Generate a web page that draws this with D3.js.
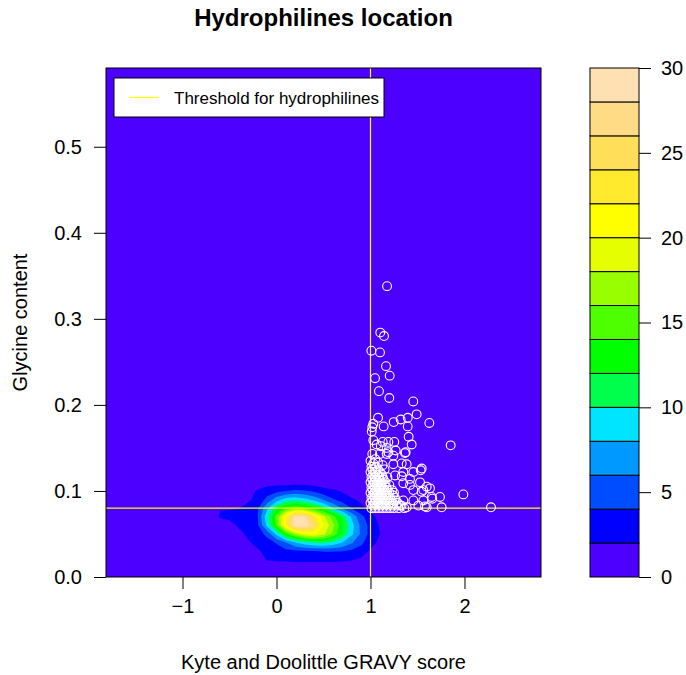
<!DOCTYPE html>
<html><head><meta charset="utf-8">
<script src="https://cdn.jsdelivr.net/npm/d3@7"></script>
<style>body{margin:0;background:#fff}svg{display:block}text{font-family:"Liberation Sans",Arial,sans-serif}</style>
</head><body>
<svg id="chart" width="686" height="675"></svg>
<script>
const title = "Hydrophilines location";
const xLabel = "Kyte and Doolittle GRAVY score";
const yLabel = "Glycine content";
const legendLabel = "Threshold for hydrophilines";
const xTicks = [-1, 0, 1, 2];
const yTicks = [0, 0.1, 0.2, 0.3, 0.4, 0.5];
const barTicks = [0, 5, 10, 15, 20, 25, 30];
const levelBreaks = [0,2,4,6,8,10,12,14,16,18,20,22,24,26,28,30];
const levelColors = ["#4C00FF","#0000FF","#004CFF","#0099FF","#00E5FF","#00FF4D","#00FF00","#4DFF00","#99FF00","#E6FF00","#FFFF00","#FFEA2D","#FFDE59","#FFDB86","#FFE0B3"];
const gravyThreshold = 1;
const glycineThreshold = 0.08;

// density estimate of all proteins (rows = glycine content, columns = GRAVY)
const gridX = [-0.8,-0.7,-0.6,-0.5,-0.4,-0.3,-0.2,-0.1,0,0.1,0.2,0.3,0.4,0.5,0.6,0.7,0.8,0.9,1.0,1.1,1.2,1.3];
const gridY = [0,0.01,0.02,0.03,0.04,0.05,0.06,0.07,0.08,0.09,0.1,0.11,0.12,0.13];
const density = [
[0,0,0,0,0,0,0,0,0,0,0,0,0,0,0,0,0,0,0,0,0,0],
[0,0,0,0,0,0,0,0.3,0.6,0.7,0.8,0.8,0.8,0.8,0.8,0.8,0.7,0.5,0.3,0.1,0,0],
[0,0,0,0,0,0,1.0,2.1,2.3,2.3,2.4,2.4,2.4,2.4,2.4,2.3,2.1,1.7,1.1,0.5,0.1,0],
[0,0,0,0,0,0.3,1.8,2.5,3.0,3.4,3.7,3.8,3.9,4.1,4.1,4.0,3.6,3.0,1.7,1.0,0.4,0],
[0,0,0,0,0.5,1.8,2.5,3.3,4.2,6.0,8.0,9.2,10.2,10.4,9.6,8.0,6.2,4.5,2.8,1.5,0.7,0.1],
[0,0,0,0.3,1.5,2.4,3.2,4.5,8.5,13.5,17.0,19.5,20.5,18.5,15.5,12.0,8.4,5.6,3.3,2.0,1.0,0.2],
[0,0,0,1.4,2.3,2.9,3.7,8.5,14.5,22.0,29.5,29.6,26.0,20.0,16.5,12.5,8.8,5.4,3.3,1.8,0.8,0.2],
[0,0,2.4,2.4,2.5,3.0,4.0,9.5,15.0,22.0,28.9,28.4,23.0,18.5,15.0,11.5,7.6,4.6,2.8,1.2,0.3,0],
[0,0,1.8,1.9,1.95,2.7,3.8,7.6,11.5,14.5,15.5,14.5,13.0,11.0,8.2,5.8,4.0,2.6,1.4,0.4,0,0],
[0,0,0,0.5,1.0,1.7,2.6,4.6,7.0,8.8,9.4,8.6,7.4,5.8,4.2,3.2,2.3,1.5,0.6,0,0,0],
[0,0,0,0,0.6,1.4,2.2,3.0,3.5,4.0,4.4,4.2,3.6,2.8,2.4,1.8,0.9,0.3,0,0,0,0],
[0,0,0,0,0,0.4,0.9,1.2,1.1,1.0,1.0,1.0,0.9,0.7,0.5,0.2,0,0,0,0,0,0],
[0,0,0,0,0,0,0.1,0.3,0.3,0.3,0.3,0.2,0.1,0,0,0,0,0,0,0,0,0],
[0,0,0,0,0,0,0,0,0,0,0,0,0,0,0,0,0,0,0,0,0,0]
];

// hydrophilines: [GRAVY score, glycine content]
const hydrophilines = [
[1.176,0.338],[1.104,0.284],[1.144,0.280],[1.009,0.263],[1.101,0.261],[1.165,0.245],[1.048,0.231],[1.204,0.234],[1.090,0.216],[1.200,0.208],[1.455,0.204],
[1.080,0.185],[1.247,0.180],[1.321,0.183],[1.396,0.185],[1.491,0.189],[1.626,0.179],[1.030,0.178],[1.019,0.174],[1.140,0.175],[1.396,0.175],[1.013,0.169],
[1.406,0.163],[1.438,0.154],[1.853,0.153],[1.253,0.157],[1.190,0.157],[1.130,0.157],[1.066,0.154],[1.030,0.159],[1.110,0.152],[1.172,0.150],[1.268,0.147],
[1.374,0.145],[1.190,0.145],[1.100,0.143],[1.019,0.143],[1.172,0.143],[1.243,0.141],[1.367,0.144],[1.030,0.132],[1.129,0.130],[1.243,0.131],[1.332,0.132],
[1.385,0.131],[1.349,0.122],[1.456,0.122],[1.534,0.124],[1.545,0.126],[1.261,0.118],[1.332,0.117],[1.420,0.114],[1.527,0.110],[1.598,0.105],[1.633,0.103],
[1.349,0.109],[1.420,0.107],[1.456,0.101],[1.544,0.099],[1.562,0.101],[1.651,0.093],[1.739,0.093],[1.657,0.091],[1.562,0.089],[1.456,0.089],[1.349,0.089],
[1.509,0.083],[1.598,0.081],[1.580,0.082],[1.757,0.081],[1.385,0.081],[1.314,0.083],[1.988,0.096],[2.282,0.081],
[1.00,0.135],[1.05,0.137],[1.08,0.133],
[1.01,0.080],[1.05,0.080],[1.09,0.080],[1.13,0.080],[1.17,0.080],[1.21,0.080],[1.25,0.080],[1.30,0.080],[1.36,0.080],
[1.03,0.083],[1.07,0.083],[1.11,0.083],[1.15,0.083],[1.19,0.083],[1.23,0.083],[1.28,0.083],[1.33,0.083],
[1.00,0.086],[1.04,0.086],[1.08,0.086],[1.12,0.086],[1.16,0.086],[1.20,0.086],[1.24,0.086],[1.29,0.086],
[1.02,0.089],[1.06,0.089],[1.10,0.089],[1.14,0.089],[1.18,0.089],[1.22,0.089],[1.27,0.089],
[1.01,0.092],[1.05,0.092],[1.09,0.092],[1.13,0.092],[1.17,0.092],[1.21,0.092],[1.26,0.092],
[1.03,0.095],[1.07,0.095],[1.11,0.095],[1.15,0.095],[1.19,0.095],[1.24,0.095],
[1.00,0.098],[1.04,0.098],[1.08,0.098],[1.12,0.098],[1.16,0.098],[1.20,0.098],[1.25,0.098],
[1.02,0.101],[1.06,0.101],[1.10,0.101],[1.14,0.101],[1.18,0.101],[1.23,0.101],
[1.01,0.104],[1.05,0.104],[1.09,0.104],[1.13,0.104],[1.17,0.104],
[1.03,0.107],[1.07,0.107],[1.11,0.107],[1.15,0.107],[1.20,0.107],
[1.00,0.110],[1.04,0.110],[1.08,0.110],[1.12,0.110],[1.16,0.110],
[1.02,0.113],[1.06,0.113],[1.10,0.113],[1.14,0.113],
[1.01,0.116],[1.05,0.116],[1.09,0.116],[1.13,0.116],[1.18,0.116],
[1.03,0.119],[1.07,0.119],[1.12,0.119],
[1.00,0.122],[1.05,0.122],[1.10,0.122],
[1.02,0.125],[1.08,0.125],[1.15,0.125],
[1.01,0.128],[1.06,0.128]
];

const svg = d3.select("#chart");
const L = 106, R = 541, T = 68, B = 577;
const x = d3.scaleLinear().domain([-1.814, 2.814]).range([L, R]);
const y = d3.scaleLinear().domain([0, 0.5915]).range([B, T]);
const font = "Liberation Sans, Arial, sans-serif";

svg.append("defs").append("clipPath").attr("id", "clip").append("rect")
  .attr("x", L).attr("y", T).attr("width", R - L).attr("height", B - T);
const plot = svg.append("g").attr("clip-path", "url(#clip)");
plot.append("rect").attr("x", L).attr("y", T).attr("width", R - L).attr("height", B - T).attr("fill", levelColors[0]);

const nx = gridX.length, ny = gridY.length;
const stepX = gridX[1] - gridX[0], stepY = gridY[1] - gridY[0];
const values = density.flat();
const proj = d3.geoTransform({ point(px, py) {
  this.stream.point(x(gridX[0] + (px - 0.5) * stepX), y(gridY[0] + (py - 0.5) * stepY)); } });
const path = d3.geoPath(proj);
const contours = d3.contours().size([nx, ny]).thresholds(levelBreaks.slice(1, -1))(values);
plot.selectAll("path.band").data(contours).join("path").attr("class", "band")
  .attr("d", path).attr("fill", (d, i) => levelColors[i + 1]);

plot.append("line").attr("x1", x(gravyThreshold)).attr("x2", x(gravyThreshold)).attr("y1", T).attr("y2", B)
  .attr("stroke", "#FFFF00").attr("stroke-width", 1.2);
plot.append("line").attr("x1", L).attr("x2", R).attr("y1", y(glycineThreshold)).attr("y2", y(glycineThreshold))
  .attr("stroke", "#FFFF00").attr("stroke-width", 1.2);

plot.selectAll("circle").data(hydrophilines).join("circle")
  .attr("cx", d => x(d[0])).attr("cy", d => y(d[1])).attr("r", 4.4)
  .attr("fill", "none").attr("stroke", "#fff").attr("stroke-width", 1.1);

svg.append("rect").attr("x", L).attr("y", T).attr("width", R - L).attr("height", B - T)
  .attr("fill", "none").attr("stroke", "#000").attr("stroke-width", 1);

// legend
const lg = svg.append("g");
lg.append("rect").attr("x", 114).attr("y", 78).attr("width", 270).attr("height", 39).attr("fill", "#fff").attr("stroke", "#000");
lg.append("line").attr("x1", 129).attr("x2", 159).attr("y1", 97.5).attr("y2", 97.5).attr("stroke", "#FFFF00").attr("stroke-width", 1.2);
lg.append("text").attr("x", 174).attr("y", 103.5).attr("font-size", 17).text(legendLabel);

// axes
const xa = svg.append("g").attr("transform", `translate(0,${B})`)
  .call(d3.axisBottom(x).tickValues(xTicks).tickSize(12).tickPadding(10).tickFormat(d3.format("d")));
xa.select(".domain").remove();
xa.selectAll("text").attr("font-size", 20).attr("font-family", font).text(d => d < 0 ? "\u2212" + Math.abs(d) : d);
const ya = svg.append("g").attr("transform", `translate(${L},0)`)
  .call(d3.axisLeft(y).tickValues(yTicks).tickSize(12).tickPadding(12).tickFormat(d3.format(".1f")));
ya.select(".domain").remove();
ya.selectAll("text").attr("font-size", 20).attr("font-family", font);

svg.append("text").attr("x", (L + R) / 2).attr("y", 26).attr("text-anchor", "middle")
  .attr("font-size", 24).attr("font-weight", "bold").text(title);
svg.append("text").attr("x", (L + R) / 2).attr("y", 669).attr("text-anchor", "middle").attr("font-size", 20).text(xLabel);
svg.append("text").attr("transform", `translate(27,${(T + B) / 2}) rotate(-90)`).attr("text-anchor", "middle").attr("font-size", 20).text(yLabel);

// colour bar
const cb = d3.scaleLinear().domain([0, 30]).range([B, T]);
const CL = 590, CR = 639;
svg.append("g").selectAll("rect").data(levelColors).join("rect")
  .attr("x", CL).attr("width", CR - CL)
  .attr("y", (d, i) => cb(levelBreaks[i + 1])).attr("height", (d, i) => cb(levelBreaks[i]) - cb(levelBreaks[i + 1]))
  .attr("fill", d => d).attr("stroke", "#000").attr("stroke-width", 1);
const ca = svg.append("g").attr("transform", `translate(${CR},0)`)
  .call(d3.axisRight(cb).tickValues(barTicks).tickSize(12).tickPadding(10));
ca.select(".domain").remove();
ca.selectAll("text").attr("font-size", 20).attr("font-family", font);
</script>
</body></html>
